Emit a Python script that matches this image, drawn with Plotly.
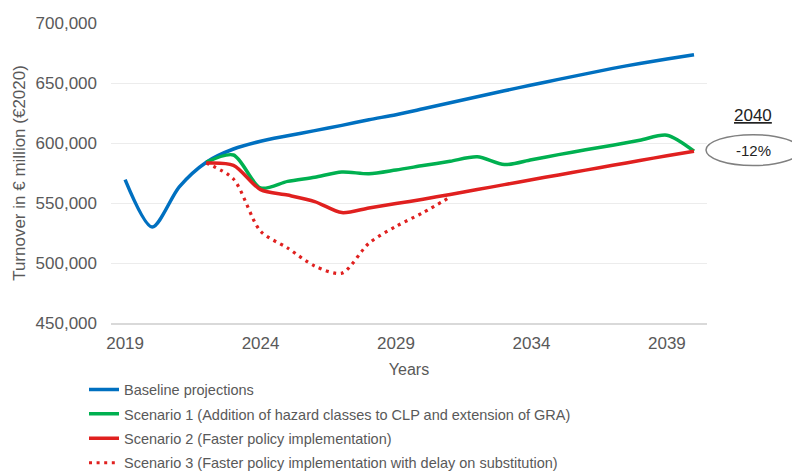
import plotly.graph_objects as go

years = list(range(2019, 2041))

baseline = [569500, 530000, 563500, 584000, 595000, 601500, 606000, 610300, 614700,
            619400, 623600, 628500, 633500, 638500, 643500, 648300, 653000, 657600,
            662200, 666300, 670000, 673600]
scenario1 = [None, None, None, 584000, 590000, 562500, 568000, 571500, 575800,
             574400, 577500, 581200, 584800, 588500, 582000, 586100, 590300, 594400,
             598200, 602300, 606500, 593200]
scenario2 = [None, None, None, 583300, 581400, 561100, 556600, 551200, 542000,
             545900, 549500, 553200, 557100, 561200, 565300, 569400, 573400, 577400,
             581400, 585400, 589400, 593200]
scenario3 = [None, None, None, 583300, 570000, 526500, 512500, 497500, 491500,
             516500, 530500, 542000, 555000]

names = [
    "Baseline projections",
    "Scenario 1 (Addition of hazard classes to CLP and extension of GRA)",
    "Scenario 2 (Faster policy implementation)",
    "Scenario 3 (Faster policy implementation with delay on substitution)",
]
colors = ["#0070C0", "#00B050", "#E0201F", "#E0201F"]

FONT = "Liberation Sans, Arial, sans-serif"

fig = go.Figure()
series = [baseline, scenario1, scenario2, scenario3]
for i, (s, n, c) in enumerate(zip(series, names, colors)):
    fig.add_trace(go.Scatter(
        x=years[:len(s)], y=s, name=n, mode="lines",
        line=dict(color=c, width=3.5 if i < 3 else 3.2,
                  shape="spline", smoothing=0.8,
                  dash="solid" if i < 3 else "3px,4.6px"),
        legendgroup=f"g{i}",
        connectgaps=False,
    ))

fig.update_layout(
    width=792, height=472,
    margin=dict(l=111, r=85, t=23, b=148.5, autoexpand=False),
    paper_bgcolor="white", plot_bgcolor="white",
    font=dict(family=FONT, color="#595959", size=17),
    showlegend=True,
    legend=dict(
        x=-0.0453, y=-0.1683, xanchor="left", yanchor="top",
        orientation="v", traceorder="grouped", tracegroupgap=2.6,
        font=dict(size=14.5, color="#595959", family=FONT),
        bgcolor="rgba(0,0,0,0)", itemwidth=30,
    ),
    xaxis=dict(
        range=[2018.48, 2040.48],
        tickmode="array", tickvals=[2019, 2024, 2029, 2034, 2039],
        ticktext=["2019", "2024", "2029", "2034", "2039"],
        showgrid=False, zeroline=False,
        showline=True, linecolor="#d9d9d9", linewidth=2,
        ticks="", ticklen=0,
        ticklabelstandoff=4,
        tickfont=dict(size=17, color="#595959"),
        title=dict(text="Years", font=dict(size=16, color="#595959"), standoff=11),
    ),
    yaxis=dict(
        range=[450000, 700000],
        tickmode="array", tickvals=[450000, 500000, 550000, 600000, 650000, 700000],
        tickformat=",d",
        showgrid=True, gridcolor="#ececec", gridwidth=1,
        zeroline=False, showline=False, ticks="",
        tickfont=dict(size=17, color="#595959"),
        ticklabelstandoff=13,
        title=dict(text="Turnover in € million (€2020)", font=dict(size=17, color="#595959"), standoff=5),
    ),
)

fig.add_annotation(
    xref="paper", yref="paper", x=(753 - 111) / 596, y=(323.5 - 116) / 300.2,
    text="<u>2040</u>", showarrow=False, font=dict(size=17, color="#222222"),
    xanchor="center", yanchor="middle",
)
fig.add_annotation(
    xref="paper", yref="paper", x=(753 - 111) / 596, y=(323.5 - 151) / 300.2,
    text="-12%", showarrow=False, font=dict(size=15, color="#222222"),
    xanchor="center", yanchor="middle",
)
fig.add_shape(
    type="circle", xref="paper", yref="paper",
    x0=(706 - 111) / 596, x1=(800 - 111) / 596,
    y0=(323.5 - 166) / 300.2, y1=(323.5 - 135) / 300.2,
    line=dict(color="#808080", width=1.5), fillcolor="rgba(0,0,0,0)",
)

fig.write_html("out.html")
